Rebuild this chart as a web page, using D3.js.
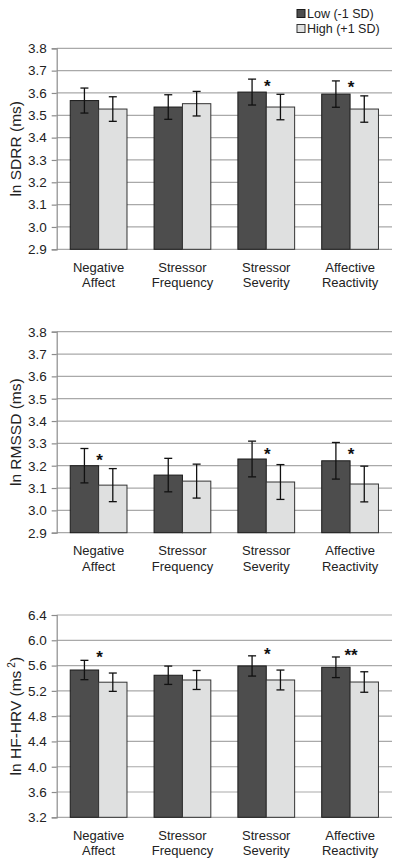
<!DOCTYPE html>
<html>
<head>
<meta charset="utf-8">
<script src="https://cdn.jsdelivr.net/npm/d3@7"></script>
<style>
  html, body { margin: 0; padding: 0; background: #fff; }
  svg { display: block; font-family: "Liberation Sans", Arial, sans-serif; }
</style>
</head>
<body>
<svg id="chart" width="400" height="863"></svg>
<script>
// ---- data ----
const categories = [["Negative", "Affect"], ["Stressor", "Frequency"], ["Stressor", "Severity"], ["Affective", "Reactivity"]];
const seriesNames = ["Low (-1 SD)", "High (+1 SD)"];

// Panel 1: ln SDRR (ms)
const sdrrLow = [3.566, 3.537, 3.604, 3.595];
const sdrrLowErr = [0.056, 0.055, 0.058, 0.059];
const sdrrHigh = [3.528, 3.552, 3.537, 3.528];
const sdrrHighErr = [0.055, 0.055, 0.057, 0.059];
const sdrrSig = ["", "", "*", "*"];
const sdrrSigY = [null, null, 3.648, 3.643];
const sdrrTicks = [2.9, 3.0, 3.1, 3.2, 3.3, 3.4, 3.5, 3.6, 3.7, 3.8];

// Panel 2: ln RMSSD (ms)
const rmssdLow = [3.200, 3.158, 3.230, 3.222];
const rmssdLowErr = [0.077, 0.075, 0.080, 0.082];
const rmssdHigh = [3.113, 3.131, 3.127, 3.118];
const rmssdHighErr = [0.074, 0.076, 0.078, 0.080];
const rmssdSig = ["*", "", "*", "*"];
const rmssdSigY = [3.243, null, 3.266, 3.266];
const rmssdTicks = [2.9, 3.0, 3.1, 3.2, 3.3, 3.4, 3.5, 3.6, 3.7, 3.8];

// Panel 3: ln HF-HRV (ms²)
const hfLow = [5.530, 5.447, 5.594, 5.573];
const hfLowErr = [0.153, 0.145, 0.160, 0.163];
const hfHigh = [5.337, 5.372, 5.372, 5.340];
const hfHighErr = [0.145, 0.150, 0.157, 0.162];
const hfSig = ["*", "", "*", "**"];
const hfSigY = [5.794, null, 5.846, 5.819];
const hfTicks = [3.2, 3.6, 4.0, 4.4, 4.8, 5.2, 5.6, 6.0, 6.4];

// ---- drawing ----
const svg = d3.select("#chart");
const colors = ["#4d4d4d", "#dfe0e0"];
const strokes = ["#1a1a1a", "#333333"];
const gridColor = "#a9a9a9";
const textColor = "#222";
const xLeft = 56.7, xRight = 392;

const x = d3.scaleBand().domain(d3.range(categories.length)).range([xLeft, xRight])
  .paddingInner(0.323).paddingOuter(0.1615);
const xs = d3.scaleBand().domain([0, 1]).range([0, x.bandwidth()]);

function panel(cfg) {
  const y = d3.scaleLinear().domain([cfg.ticks[0], cfg.ticks[cfg.ticks.length - 1]]).range([cfg.bottom, cfg.top]);
  const g = svg.append("g");

  // gridlines
  g.append("g").selectAll("line").data(cfg.ticks).join("line")
    .attr("x1", xLeft).attr("x2", xRight)
    .attr("y1", d => y(d)).attr("y2", d => y(d))
    .attr("stroke", gridColor).attr("stroke-width", 1.2);

  // y axis
  const yAxis = d3.axisLeft(y).tickValues(cfg.ticks).tickFormat(d3.format(".1f")).tickSize(5).tickPadding(5);
  const ya = g.append("g").attr("transform", `translate(${xLeft},0)`).call(yAxis);
  ya.select(".domain").attr("stroke", "#8c8c8c").attr("stroke-width", 1.2);
  ya.selectAll(".tick line").attr("stroke", "#8c8c8c").attr("stroke-width", 1.2);
  ya.selectAll(".tick text").attr("fill", textColor).style("font-size", "13.5px")
    .style("font-family", "'Liberation Sans', Arial, sans-serif");

  // x category labels
  const xl = g.append("g").selectAll("text").data(categories).join("text")
    .attr("x", (d, i) => x(i) + x.bandwidth() / 2)
    .attr("y", cfg.bottom + 22.5)
    .attr("text-anchor", "middle").attr("fill", textColor).style("font-size", "13px");
  xl.append("tspan").attr("x", (d, i) => x(i) + x.bandwidth() / 2).text(d => d[0]);
  xl.append("tspan").attr("x", (d, i) => x(i) + x.bandwidth() / 2).attr("dy", 15.5).text(d => d[1]);

  // bars
  const series = [cfg.low, cfg.high];
  const errs = [cfg.lowErr, cfg.highErr];
  series.forEach((vals, s) => {
    g.append("g").selectAll("rect").data(vals).join("rect")
      .attr("x", (d, i) => x(i) + xs(s))
      .attr("width", xs.bandwidth())
      .attr("y", d => y(d))
      .attr("height", d => y(cfg.ticks[0]) - y(d))
      .attr("fill", colors[s]).attr("stroke", strokes[s]).attr("stroke-width", 1);
  });
  // error bars
  series.forEach((vals, s) => {
    const eg = g.append("g").attr("stroke", "#111").attr("stroke-width", 1.3);
    vals.forEach((v, i) => {
      const cx = x(i) + xs(s) + xs.bandwidth() / 2;
      const e = errs[s][i];
      eg.append("line").attr("x1", cx).attr("x2", cx).attr("y1", y(v + e)).attr("y2", y(v - e));
      eg.append("line").attr("x1", cx - 4).attr("x2", cx + 4).attr("y1", y(v + e)).attr("y2", y(v + e));
      eg.append("line").attr("x1", cx - 4).attr("x2", cx + 4).attr("y1", y(v - e)).attr("y2", y(v - e));
    });
  });
  // significance stars
  g.append("g").selectAll("text").data(cfg.sig.map((s, i) => ({ s, i, v: cfg.sigY[i] })).filter(d => d.s))
    .join("text")
    .attr("x", d => x(d.i) + x.bandwidth() / 2 + 1)
    .attr("y", d => y(d.v) + 9.5)
    .attr("text-anchor", "middle").attr("fill", "#111")
    .style("font-size", "17px").style("font-weight", "bold")
    .text(d => d.s);

  // y title
  const cy = (cfg.top + cfg.bottom) / 2;
  const t = g.append("text").attr("transform", `translate(20.5,${cy}) rotate(-90)`)
    .attr("text-anchor", "middle").attr("fill", textColor).style("font-size", "15.5px");
  t.append("tspan").text(cfg.title);
  if (cfg.sup) {
    t.append("tspan").attr("dx", 3).attr("dy", -6).style("font-size", "10px").text(cfg.sup);
    t.append("tspan").attr("dy", 6).text(cfg.titleEnd);
  }
}

panel({ top: 48.3, bottom: 249.3, ticks: sdrrTicks, low: sdrrLow, lowErr: sdrrLowErr, high: sdrrHigh, highErr: sdrrHighErr,
  sig: sdrrSig, sigY: sdrrSigY, title: "ln SDRR (ms)" });
panel({ top: 331.7, bottom: 532.7, ticks: rmssdTicks, low: rmssdLow, lowErr: rmssdLowErr, high: rmssdHigh, highErr: rmssdHighErr,
  sig: rmssdSig, sigY: rmssdSigY, title: "ln RMSSD (ms)" });
panel({ top: 615, bottom: 817.3, ticks: hfTicks, low: hfLow, lowErr: hfLowErr, high: hfHigh, highErr: hfHighErr,
  sig: hfSig, sigY: hfSigY, title: "ln HF-HRV (ms", sup: "2", titleEnd: ")" });

// legend
const lg = svg.append("g").attr("transform", "translate(297,9)");
const li = lg.selectAll("g").data(seriesNames).join("g").attr("transform", (d, i) => `translate(0,${i * 15})`);
li.append("rect").attr("width", 8).attr("height", 8).attr("y", 0.5)
  .attr("fill", (d, i) => colors[i]).attr("stroke", (d, i) => strokes[i]).attr("stroke-width", 1);
li.append("text").attr("x", 10).attr("y", 8.5).attr("fill", textColor).style("font-size", "12.5px").text(d => d);
</script>
</body>
</html>
